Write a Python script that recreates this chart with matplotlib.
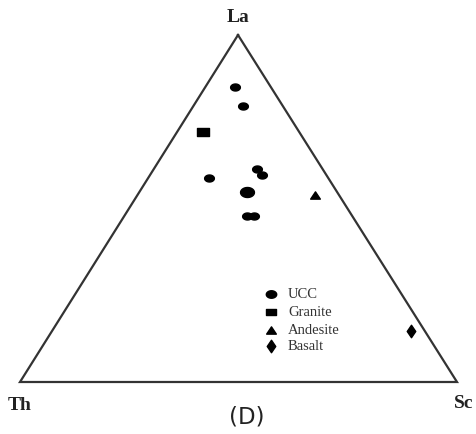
import matplotlib
matplotlib.use("Agg")
import matplotlib.pyplot as plt
import numpy as np
from matplotlib.path import Path

# ternary compositions (La, Th, Sc) as fractions
ucc_la = [0.850, 0.795, 0.588, 0.614, 0.597, 0.478, 0.478]
ucc_th = [0.082, 0.091, 0.273, 0.150, 0.147, 0.241, 0.225]
ucc_sc = [0.068, 0.114, 0.139, 0.236, 0.256, 0.281, 0.297]
ucc_big = [0.548, 0.206, 0.246]   # the larger UCC point

granite = [0.720, 0.220, 0.060]
andesite = [0.539, 0.055, 0.406]
basalt = [0.147, 0.032, 0.821]

legend_labels = ["UCC", "Granite", "Andesite", "Basalt"]
apex_labels = ["La", "Th", "Sc"]

# corners of the triangle in figure pixels (La top, Th left, Sc right)
A = np.array([238.0, 36.0])
B = np.array([20.0, 383.0])
C = np.array([457.0, 383.0])


def to_xy(la, th, sc):
    la, th, sc = np.asarray(la), np.asarray(th), np.asarray(sc)
    tot = la + th + sc
    x = (la * A[0] + th * B[0] + sc * C[0]) / tot
    y = (la * A[1] + th * B[1] + sc * C[1]) / tot
    return x, y


def shape(kind):
    if kind == "ellipse":
        t = np.linspace(0, 2 * np.pi, 40)
        return Path(np.column_stack([np.cos(t), 0.72 * np.sin(t)]), closed=True)
    if kind == "rect":
        return Path([(-1, -0.7), (1, -0.7), (1, 0.7), (-1, 0.7), (-1, -0.7)], closed=True)
    if kind == "tri":
        return Path([(-1, -0.75), (1, -0.75), (0, 0.75), (-1, -0.75)], closed=True)
    return Path([(0, 1), (0.68, 0), (0, -1), (-0.68, 0), (0, 1)], closed=True)


fig = plt.figure(figsize=(4.77, 4.35), dpi=100)
ax = fig.add_axes([0, 0, 1, 1])
ax.set_xlim(0, 477)
ax.set_ylim(435, 0)
ax.axis("off")

tri = np.array([A, B, C, A])
ax.plot(tri[:, 0], tri[:, 1], color="#333333", lw=1.6, solid_joinstyle="miter")

serif = ["Liberation Serif", "DejaVu Serif"]
ax.text(A[0], 17, apex_labels[0], ha="center", va="center", fontsize=14,
        fontweight="bold", family=serif, color="#222222")
ax.text(20, 406, apex_labels[1], ha="center", va="center", fontsize=14,
        fontweight="bold", family=serif, color="#222222")
ax.text(464, 404, apex_labels[2], ha="center", va="center", fontsize=14,
        fontweight="bold", family=serif, color="#222222")
ax.text(247, 417, "(D)", ha="center", va="center", fontsize=16.5,
        family=["DejaVu Sans"], color="#222222")

x, y = to_xy(ucc_la, ucc_th, ucc_sc)
ax.plot(x, y, ls="none", marker=shape("ellipse"), ms=7, color="black")
x, y = to_xy(*ucc_big)
ax.plot(x, y, ls="none", marker=shape("ellipse"), ms=10, color="black")
x, y = to_xy(*granite)
ax.plot(x, y, ls="none", marker=shape("rect"), ms=8, color="black")
x, y = to_xy(*andesite)
ax.plot(x, y, ls="none", marker=shape("tri"), ms=7, color="black")
x, y = to_xy(*basalt)
ax.plot(x, y, ls="none", marker=shape("diamond"), ms=9, color="black")

# hand drawn legend
kinds = ["ellipse", "rect", "tri", "diamond"]
sizes = [7.5, 7, 7, 9]
rows = [295, 313, 331, 347]
for lab, k, s, yy in zip(legend_labels, kinds, sizes, rows):
    ax.plot(271, yy, marker=shape(k), ms=s, color="black")
    ax.text(288, yy, lab, ha="left", va="center", fontsize=10.5,
            family=serif, color="#333333")

fig.savefig("out.png", dpi=100)
